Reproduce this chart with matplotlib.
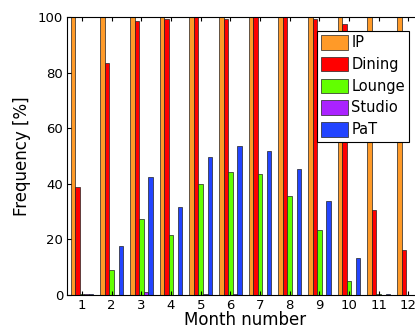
import numpy as np
import matplotlib
matplotlib.use("Agg")
from matplotlib import pyplot as plt

months = np.arange(1, 13)
series_names = ["IP", "Dining", "Lounge", "Studio", "PaT"]
ip = [100, 100, 100, 100, 100, 100, 100, 100, 100, 100, 100, 100]
dining = [38.8, 83.4, 98.6, 99.3, 100, 99.4, 100, 100, 99.4, 97.4, 30.5, 16.1]
lounge = [0.2, 8.9, 27.2, 21.6, 39.9, 44.2, 43.6, 35.6, 23.3, 4.9, 0.3, 0.0]
studio = [0.2, 0.0, 1.2, 0.0, 0.3, 0.2, 0.0, 0.0, 0.0, 0.0, 0.0, 0.0]
pat = [0.4, 17.6, 42.6, 31.8, 49.8, 53.5, 51.8, 45.2, 33.7, 13.3, 0.4, 0.0]
colors = ["#ff9a28", "#ff0000", "#62ff00", "#aa22ff", "#2244ff"]

plt.rcParams['font.family'] = ['DejaVu Sans']

fig = plt.figure(figsize=(4.15, 3.33), dpi=100)
# axes runs past the right edge of the figure, like the cropped original
ax = fig.add_axes([67.2 / 415, 38 / 333, 356 / 415, 278 / 333])

w = 0.154
data = [ip, dining, lounge, studio, pat]
for i, (vals, name, c) in enumerate(zip(data, series_names, colors)):
    ax.bar(months + (i - 2) * w, vals, width=w, color=c, edgecolor="#222222",
           linewidth=0.5, label=name)

ax.set_xlim(0.5, 12.5)
ax.set_ylim(0, 100)
ax.set_xticks(months)
ax.set_yticks([0, 20, 40, 60, 80, 100])
ax.tick_params(direction="in", top=True, right=True, labelsize=9.5, length=3, pad=3)
for s in ax.spines.values():
    s.set_linewidth(0.8)
ax.set_xlabel("Month number", fontsize=12, labelpad=-1)
ax.set_ylabel("Frequency [%]", fontsize=12, labelpad=5)

leg = ax.legend(loc="upper right", bbox_to_anchor=(409.3 / 415, 1 - 30.7 / 333),
                bbox_transform=fig.transFigure, borderaxespad=0, fontsize=10.5,
                fancybox=False, framealpha=1, edgecolor="black",
                handlelength=1.85, handleheight=1.15, labelspacing=0.45,
                handletextpad=0.2, borderpad=0.3)
leg.get_frame().set_linewidth(0.8)

plt.savefig("out.png", dpi=100)
